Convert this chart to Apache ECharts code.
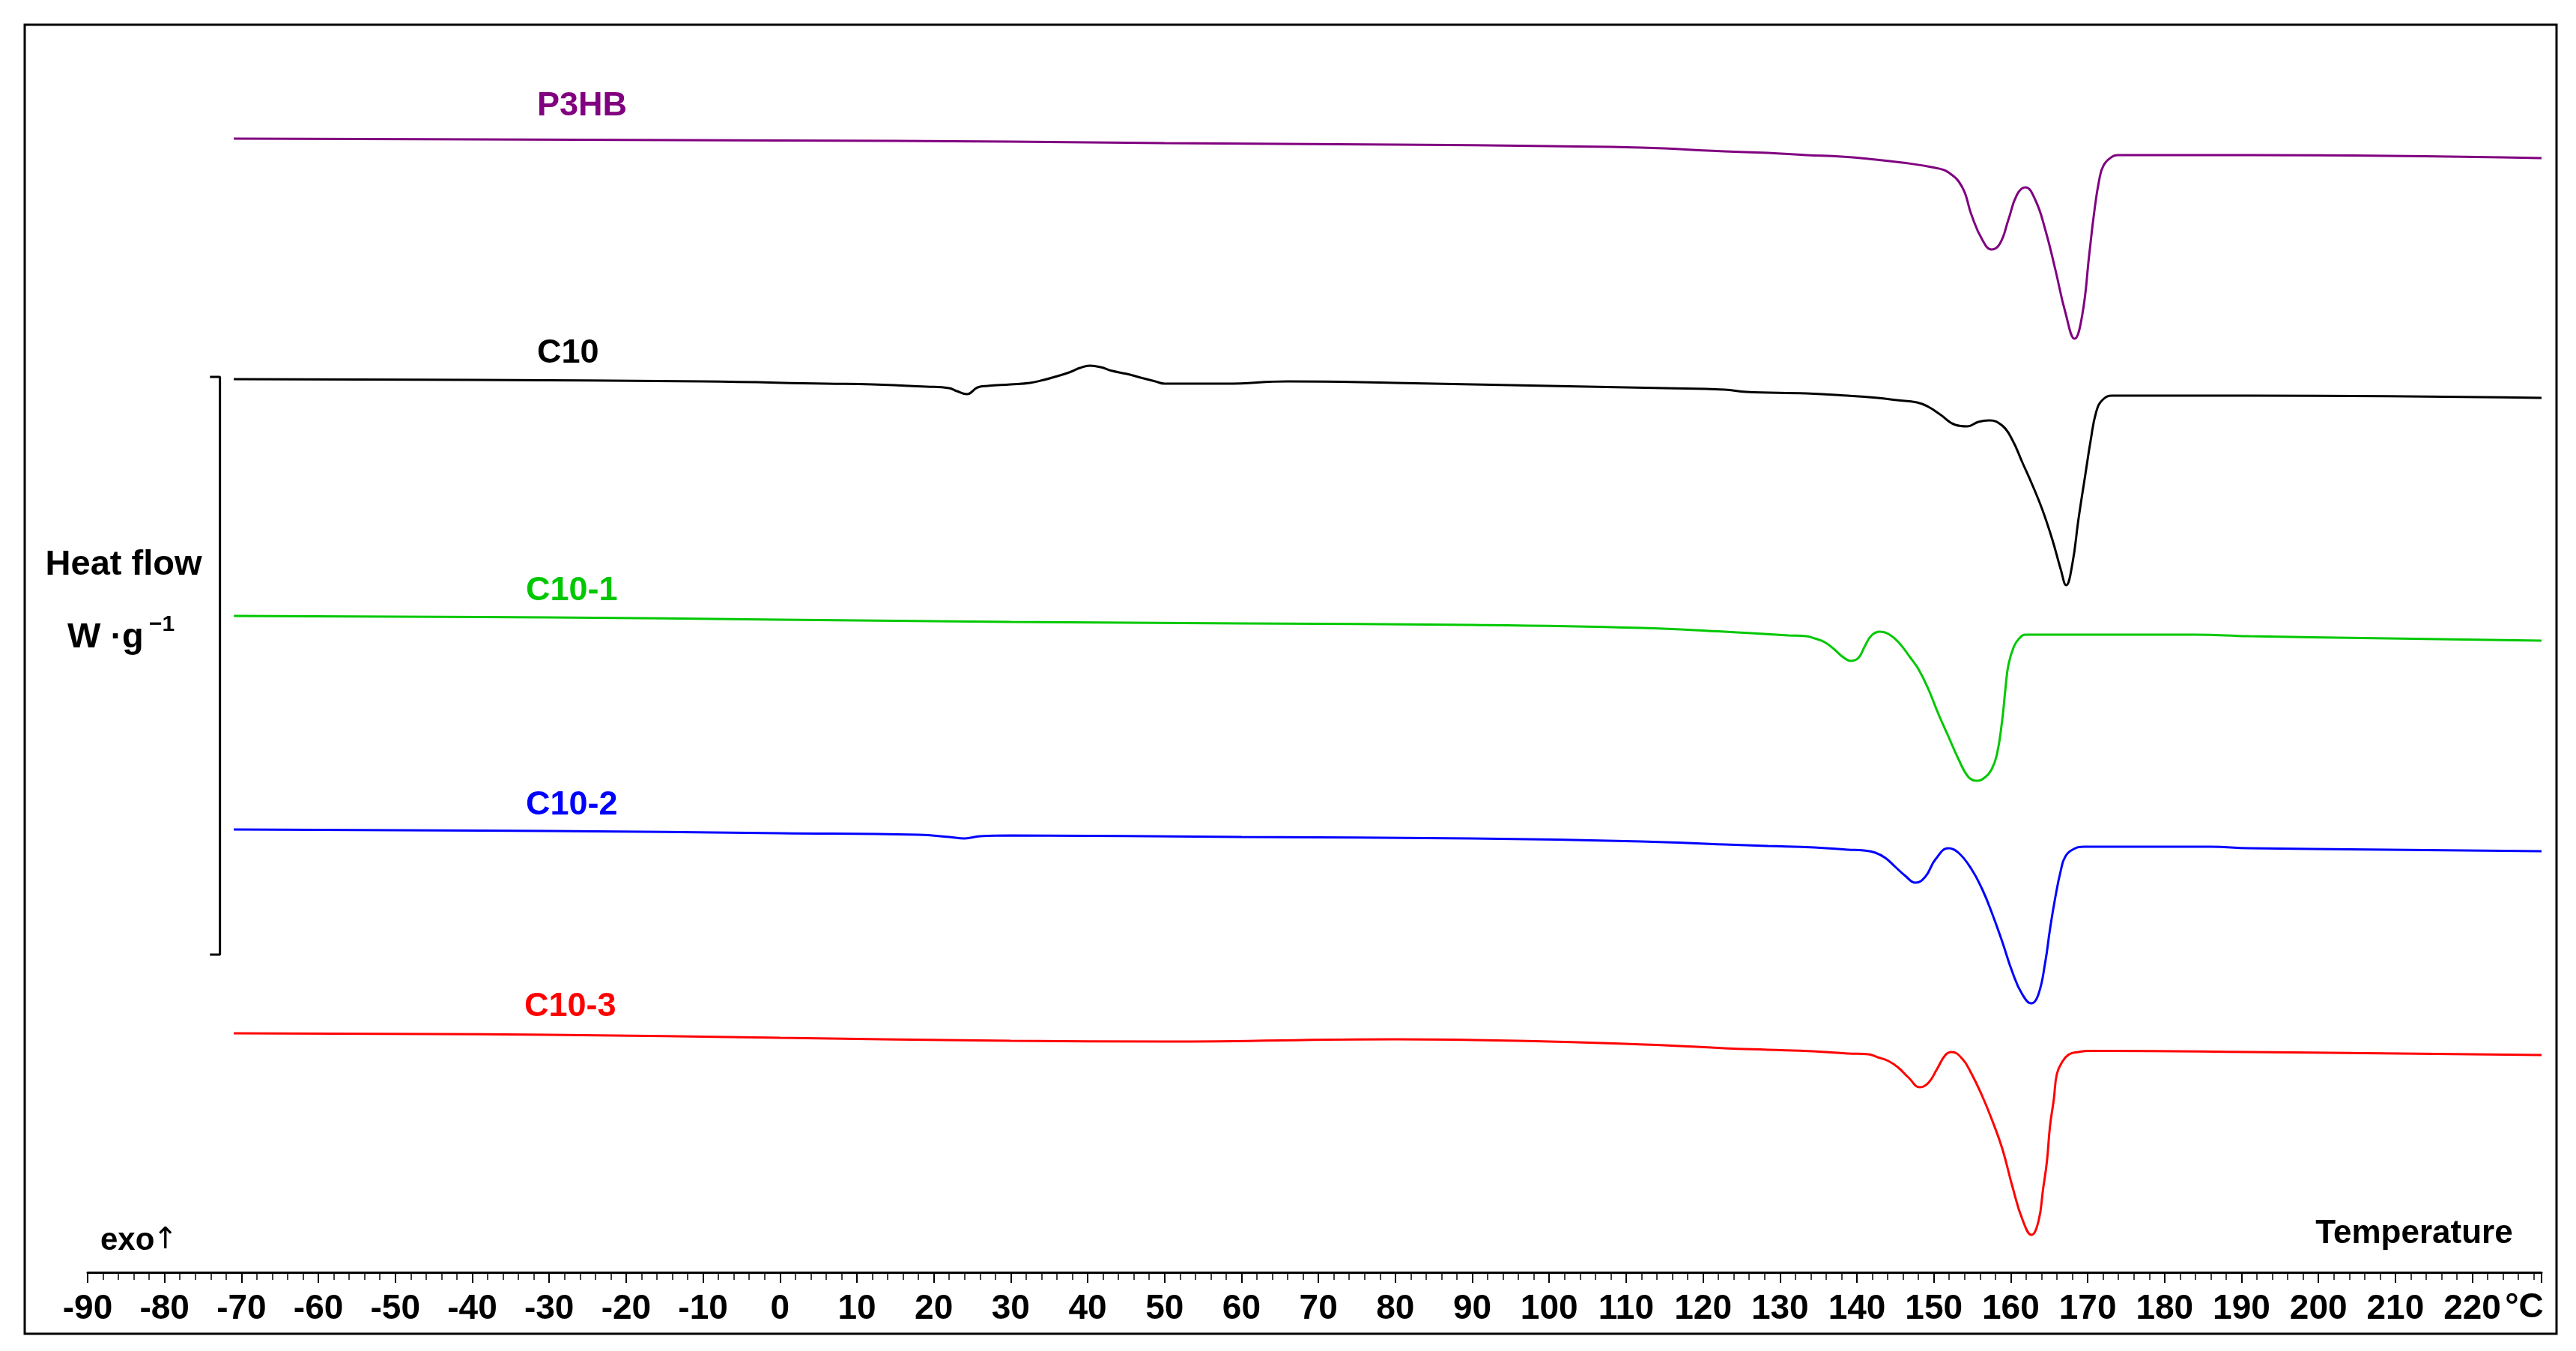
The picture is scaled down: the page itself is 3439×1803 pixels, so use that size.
<!DOCTYPE html>
<html>
<head>
<meta charset="utf-8">
<script src="https://cdn.jsdelivr.net/npm/echarts@6/dist/echarts.min.js"></script>
<style>
html,body{margin:0;padding:0;background:#fff;}
#c{width:3439px;height:1803px;}
</style>
</head>
<body>
<div id="c"></div>
<script>
// Temperature (°C) and heat flow (arbitrary stacked units, endo down)
const p3hbT  = [-71,-40,0,30,50,80,100,112,122.8,128.4,133.4,138,141.5,145.9,150.2,151.9,153.7,154.9,156.3,157.5,158.6,159.7,160.8,161.9,163.2,164.5,165.8,167.1,168.3,169.3,170.2,170.8,171.5,172.1,173.2,173.9,191,229];
const p3hbHF = [-15.2,-15.3,-15.45,-15.6,-15.8,-16.0,-16.2,-16.4,-16.9,-17.1,-17.4,-17.6,-17.9,-18.4,-19.1,-19.7,-21.7,-25.4,-28.7,-30.0,-29.2,-26.0,-22.7,-21.7,-23.4,-27.4,-32.7,-38.4,-41.9,-38.7,-30.7,-25.4,-20.7,-18.7,-17.6,-17.4,-17.4,-17.8];

const c10T  = [-71,-40,-10,6,12,19,22,23,24.3,25.7,27,30,32.5,34.3,35.7,37.6,39,40.3,41.7,43.2,45.1,46.9,48.8,50,58,66,80,100,115,122.8,125.6,133.4,138.8,142.7,145.2,147.8,149.3,150.8,152.8,154.3,155.8,157.2,158.9,160.2,161.5,162.8,164.1,165.4,166.5,167.2,168,168.8,169.7,170.4,171.1,171.9,173.2,191,229];
const c10HF = [-47.3,-47.4,-47.6,-47.9,-48.0,-48.3,-48.5,-48.9,-49.3,-48.4,-48.2,-48.0,-47.8,-47.4,-47.0,-46.4,-45.8,-45.5,-45.7,-46.2,-46.6,-47.1,-47.6,-47.9,-47.9,-47.6,-47.8,-48.2,-48.5,-48.7,-49.0,-49.2,-49.5,-49.8,-50.1,-50.4,-51.0,-52.0,-53.4,-53.6,-53.0,-52.8,-53.5,-55.4,-58.4,-61.4,-64.7,-68.7,-72.7,-74.8,-72.0,-66.0,-60.0,-55.4,-51.7,-50.1,-49.5,-49.5,-49.8];

const c10_1T  = [-71,-30,0,30,60,90,112,122.8,126.3,131.1,133.4,134.5,135.8,137.1,138.2,139.2,140.2,141,141.9,143,144.1,145.4,146.9,148,149.3,150.6,151.9,153.2,154.5,155.6,156.7,157.5,158.2,158.9,159.3,159.7,160.4,161.1,161.9,184,191,229];
const c10_1HF = [-78.9,-79.1,-79.4,-79.7,-79.9,-80.1,-80.5,-81.0,-81.2,-81.5,-81.6,-81.9,-82.4,-83.4,-84.4,-84.9,-84.5,-83.0,-81.5,-81.0,-81.3,-82.4,-84.4,-86.0,-88.7,-92.0,-95.0,-98.0,-100.4,-100.9,-100.4,-99.4,-97.4,-92.7,-88.7,-85.4,-83.0,-81.9,-81.4,-81.4,-81.6,-82.2];

const c10_2T  = [-71,-30,0,18,22,24,26,30,60,90,112,122.8,128.4,134.5,138.8,140.9,142.4,143.7,145,146.3,147.6,148.9,150.2,151.9,153.2,154.9,156.3,157.5,158.9,160.2,161.5,162.7,163.6,164.5,165.1,165.8,166.5,167.1,168.2,169.5,186,191,229];
const c10_2HF = [-107.4,-107.6,-107.9,-108.1,-108.4,-108.6,-108.3,-108.2,-108.4,-108.6,-109.0,-109.4,-109.6,-109.8,-110.1,-110.2,-110.5,-111.2,-112.4,-113.6,-114.5,-113.7,-111.4,-109.9,-110.5,-112.7,-115.4,-118.4,-122.4,-126.4,-129.4,-130.6,-129.4,-125.0,-120.7,-116.4,-112.9,-111.0,-110.0,-109.7,-109.7,-109.9,-110.3];

const c10_3T  = [-71,-30,0,30,50,80,100,115,122.8,128.4,134.3,138.8,141.5,142.7,144.1,145.4,146.7,148.2,149.3,150.4,151.5,152.3,153.7,154.9,156.3,157.5,158.9,160.2,161.5,162.7,163.6,164.2,164.7,165.1,165.6,166,166.7,167.6,168.8,170,172.5,191,229];
const c10_3HF = [-134.6,-134.8,-135.2,-135.6,-135.7,-135.4,-135.7,-136.2,-136.6,-136.8,-137.0,-137.3,-137.4,-137.8,-138.3,-139.2,-140.5,-141.8,-141.2,-139.4,-137.5,-137.1,-138.0,-140.0,-143.0,-146.0,-150.0,-155.0,-159.4,-161.5,-159.7,-155.4,-151.7,-147.0,-143.4,-140.0,-138.4,-137.4,-137.1,-136.95,-136.95,-137.1,-137.5];

// heat-flow scale bar
const scaleBarT  = [-74.1,-72.8,-72.8,-74.1];
const scaleBarHF = [-47.0,-47.0,-124.1,-124.1];

const seriesNames  = ['P3HB','C10','C10-1','C10-2','C10-3'];
const seriesColors = ['#800080','#000000','#00C800','#0000FF','#FF0000'];
const xTickLabels  = [-90,-80,-70,-60,-50,-40,-30,-20,-10,0,10,20,30,40,50,60,70,80,90,100,110,120,130,140,150,160,170,180,190,200,210,220];

const zip = (t, v) => t.map((x, i) => [x, v[i]]);
const allT  = [p3hbT, c10T, c10_1T, c10_2T, c10_3T];
const allHF = [p3hbHF, c10HF, c10_1HF, c10_2HF, c10_3HF];

const FONT = 'Liberation Sans, Arial, sans-serif';

const chart = echarts.init(document.getElementById('c'), null, {renderer: 'canvas'});

const series = seriesNames.map((n, i) => ({
  name: n,
  type: 'line',
  data: zip(allT[i], allHF[i]),
  showSymbol: false,
  smooth: 0.45,
  lineStyle: {color: seriesColors[i], width: 3},
  itemStyle: {color: seriesColors[i]},
  z: 3
}));
series.push({
  name: 'scale',
  type: 'line',
  data: zip(scaleBarT, scaleBarHF),
  showSymbol: false,
  lineStyle: {color: '#000', width: 3},
  z: 3
});

const labelPos = [[717,142],[717,472],[702,789],[702,1075],[700,1344]];
const graphics = [
  {type: 'rect', shape: {x: 33, y: 33, width: 3380, height: 1747}, style: {fill: 'none', stroke: '#000', lineWidth: 3}, z: 0},
  {type: 'text', x: 165, y: 754, style: {text: 'Heat flow', font: 'bold 47px ' + FONT, fill: '#000', align: 'center', verticalAlign: 'middle'}},
  {type: 'text', x: 90, y: 851, style: {text: 'W ·g', font: 'bold 47px ' + FONT, fill: '#000', align: 'left', verticalAlign: 'middle'}},
  {type: 'text', x: 199, y: 834, style: {text: '\u22121', font: 'bold 30px ' + FONT, fill: '#000', align: 'left', verticalAlign: 'middle'}},
  {type: 'text', x: 134, y: 1656, style: {text: 'exo', font: 'bold 42px ' + FONT, fill: '#000', align: 'left', verticalAlign: 'middle'}},
  {type: 'text', x: 204, y: 1656, style: {text: '\u2191', font: '40px DejaVu Sans', fill: '#000', align: 'left', verticalAlign: 'middle'}},
  {type: 'text', x: 3223, y: 1647, style: {text: 'Temperature', font: 'bold 44px ' + FONT, fill: '#000', align: 'center', verticalAlign: 'middle'}},
  {type: 'text', x: 3370, y: 1745, style: {text: '°C', font: 'bold 46px ' + FONT, fill: '#000', align: 'center', verticalAlign: 'middle'}}
];
seriesNames.forEach((n, i) => {
  graphics.push({type: 'text', x: labelPos[i][0], y: labelPos[i][1],
    style: {text: n, font: 'bold 45px ' + FONT, fill: seriesColors[i], align: 'left', verticalAlign: 'middle'}});
});

chart.setOption({
  animation: false,
  backgroundColor: '#fff',
  grid: {left: 117, right: 46, top: 33, bottom: 105, containLabel: false},
  xAxis: {
    type: 'value', min: -90, max: 229, interval: 10,
    axisLine: {show: true, onZero: false, lineStyle: {color: '#000', width: 3}},
    axisTick: {show: true, length: 14, lineStyle: {color: '#000', width: 2}},
    minorTick: {show: true, splitNumber: 5, length: 10, lineStyle: {color: '#000', width: 1.5}},
    splitLine: {show: false},
    axisLabel: {
      show: true, margin: 26, fontSize: 46, fontWeight: 'bold', fontFamily: FONT, color: '#000',
      showMaxLabel: false,
      formatter: v => (xTickLabels.indexOf(v) >= 0 ? String(v) : '')
    }
  },
  yAxis: {type: 'value', min: -166.5, max: 0, show: false},
  series: series,
  graphic: graphics
});
</script>
</body>
</html>
